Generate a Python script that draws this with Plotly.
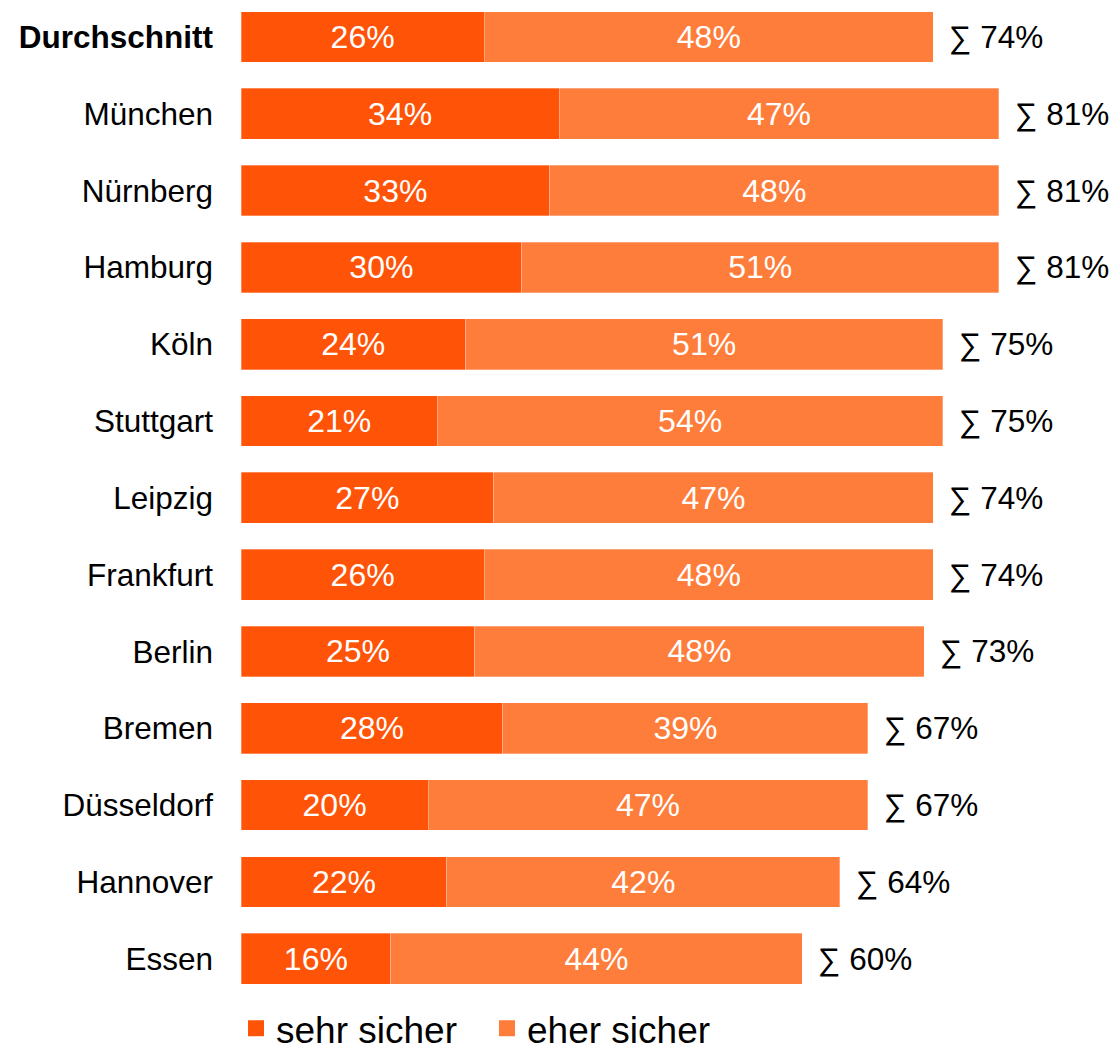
import plotly.graph_objects as go

cities = ["Durchschnitt", "München", "Nürnberg", "Hamburg", "Köln", "Stuttgart", "Leipzig",
          "Frankfurt", "Berlin", "Bremen", "Düsseldorf", "Hannover", "Essen"]
sehr_sicher = [26, 34, 33, 30, 24, 21, 27, 26, 25, 28, 20, 22, 16]
eher_sicher = [48, 47, 48, 51, 51, 54, 47, 48, 48, 39, 47, 42, 44]
totals = [74, 81, 81, 81, 75, 75, 74, 74, 73, 67, 67, 64, 60]
series_names = ["sehr sicher", "eher sicher"]

C_DARK = "#FF5307"
C_LIGHT = "#FE7D3B"
FONT = "Liberation Sans, Arial, sans-serif"

ticktext = ["<b>%s</b>" % c if c == "Durchschnitt" else c for c in cities]

fig = go.Figure()
for name, vals, col in [(series_names[0], sehr_sicher, C_DARK), (series_names[1], eher_sicher, C_LIGHT)]:
    fig.add_trace(go.Bar(
        y=cities, x=vals, orientation="h", name=name,
        marker=dict(color=col, line=dict(width=0.5, color="rgba(255,255,255,0.6)")),
        text=[f"{v}%" for v in vals], textposition="inside", insidetextanchor="middle",
        textangle=0, textfont=dict(color="white", size=32, family=FONT),
        showlegend=False, width=0.66,
    ))
    fig.add_trace(go.Scatter(
        x=[None], y=[None], mode="markers", name=name,
        marker=dict(symbol="square", size=16, color=col), showlegend=True,
    ))

for c, t in zip(cities, totals):
    fig.add_annotation(x=t, y=c, text=f"∑ {t}%", xanchor="left", yanchor="middle",
                       xshift=14, showarrow=False,
                       font=dict(size=31.5, color="black", family=FONT))

fig.update_layout(
    barmode="stack",
    width=1117, height=1047,
    margin=dict(l=241, r=62, t=0, b=47.5),
    paper_bgcolor="white", plot_bgcolor="white",
    font=dict(family=FONT, color="black", size=31.5),
    legend=dict(orientation="h", xref="container", yref="container",
                x=0.2113, xanchor="left", y=0.0175, yanchor="middle",
                font=dict(size=37, color="black", family=FONT),
                itemwidth=30, entrywidth=206, traceorder="normal",
                bgcolor="rgba(0,0,0,0)"),
    xaxis=dict(range=[0, 87], visible=False, fixedrange=True),
    yaxis=dict(categoryorder="array", categoryarray=cities, tickmode="array",
               tickvals=cities, ticktext=ticktext, range=[12.5, -0.48],
               ticks="", showline=False, showgrid=False, ticklabelstandoff=27,
               tickfont=dict(size=31.5, color="black", family=FONT)),
    uniformtext=dict(minsize=32, mode="show"),
)

fig.write_html("out.html", config={"displayModeBar": False},
               post_script="document.body.style.margin='0';document.body.style.overflow='hidden';")
